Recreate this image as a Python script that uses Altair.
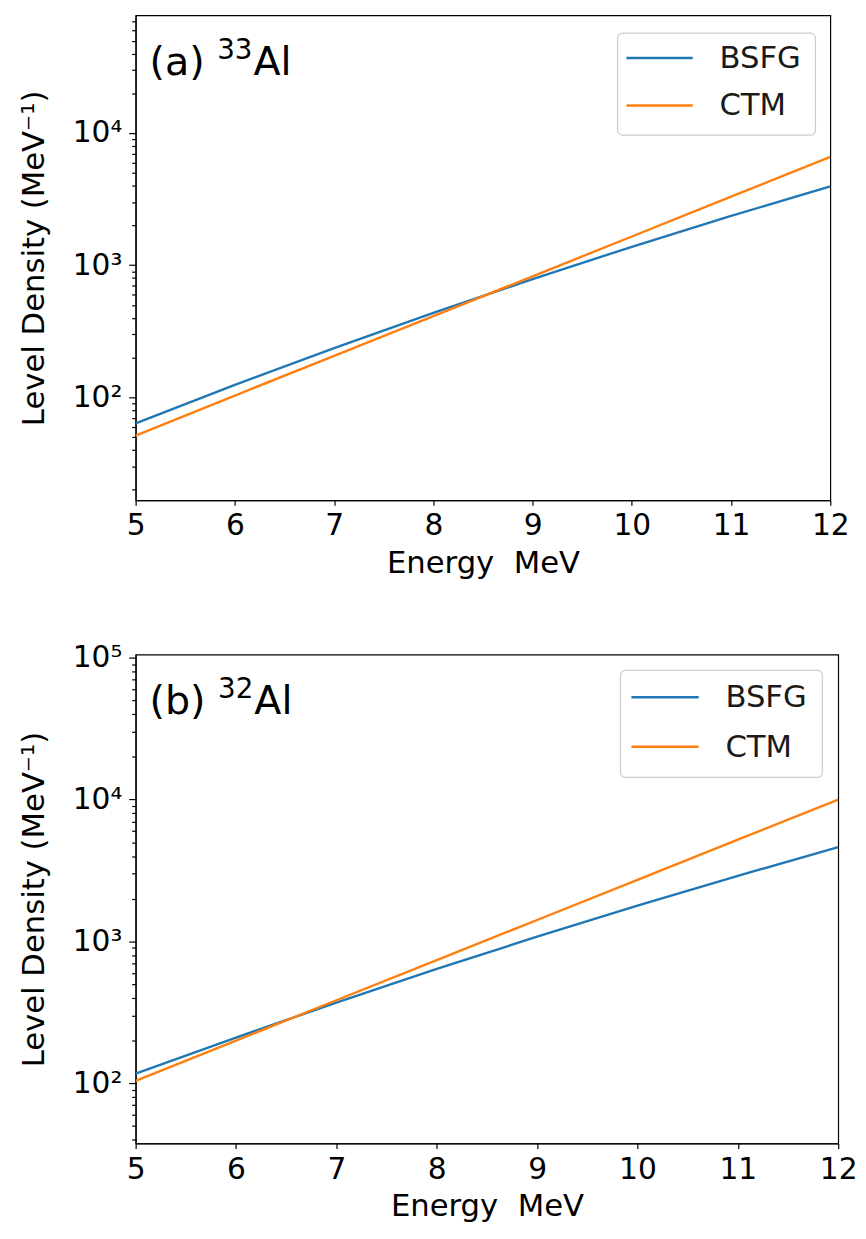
import altair as alt
import pandas as pd

# ---- data ----
energy = [5, 6, 7, 8, 9, 10, 11, 12]
models = ["BSFG", "CTM"]
colors = ["#1f77b4", "#ff7f0e"]

# (a) 33Al
bsfg_33 = [63.5, 124, 235, 435, 784, 1378, 2360, 3945]
ctm_33 = [51.3, 103, 206, 411, 823, 1648, 3300, 6600]
# (b) 32Al
bsfg_32 = [117, 210, 371, 640, 1080, 1790, 2900, 4620]
ctm_32 = [104, 200, 385, 738, 1416, 2718, 5210, 10000]

x_ticks = [5, 6, 7, 8, 9, 10, 11, 12]
mantissas = [1, 2, 3, 4, 5, 6, 7, 8, 9]
decades = [10, 100, 1000, 10000, 100000]

ydomain_a = [16.6, 77800]
ydomain_b = [37.7, 105000]

FONT = "DejaVu Sans"


def make_df(b, c):
    rows = []
    for m, vals in zip(models, [b, c]):
        for e, v in zip(energy, vals):
            rows.append({"energy": e, "density": v, "model": m})
    return pd.DataFrame(rows)


def log_ticks(dom):
    return [m * d for d in decades for m in mantissas if dom[0] <= m * d <= dom[1]]


major_test = "abs(log(datum.value)/LN10 - round(log(datum.value)/LN10)) < 0.001"
label_expr = (
    f"({major_test}) ? '10' + ['\u2070','\u00b9','\u00b2','\u00b3','\u2074','\u2075']"
    "[round(log(datum.value)/LN10)] : ''"
)


def one(**kw):
    return pd.DataFrame({k: [v] for k, v in kw.items()})


def panel(df, tag, mass, ydom, width, height, box, sample_x, label_x, rows_y):
    lines = alt.Chart(df).mark_line(strokeWidth=2.4, clip=True).encode(
        x=alt.X(
            "energy:Q",
            scale=alt.Scale(domain=[5, 12], nice=False, zero=False),
            axis=alt.Axis(
                values=x_ticks,
                title="Energy\u00a0\u00a0MeV",
                labelFlush=False,
                tickSize=5,
                labelPadding=6,
                titlePadding=8,
            ),
        ),
        y=alt.Y(
            "density:Q",
            scale=alt.Scale(type="log", domain=ydom, nice=False),
            axis=alt.Axis(
                values=log_ticks(ydom),
                labelExpr=label_expr,
                tickSize={"condition": {"test": major_test, "value": 7}, "value": 4},
                labelPadding=7,
                title="Level Density (MeV\u207b\u00b9)",
                titlePadding=22,
            ),
        ),
        color=alt.Color(
            "model:N", scale=alt.Scale(domain=models, range=colors), legend=None
        ),
    )

    layers = [lines]
    # annotation "(a) ^33Al"
    big = 40
    sup = 28
    x0 = 14
    base_y = 60
    tag_w = {"(a) ": 1.711, "(b) ": 1.733}[tag] * big
    layers.append(
        alt.Chart(one(t=tag)).mark_text(
            align="left", baseline="alphabetic", fontSize=big, font=FONT, color="black"
        ).encode(x=alt.value(x0), y=alt.value(base_y), text="t:N")
    )
    layers.append(
        alt.Chart(one(t=mass)).mark_text(
            align="left", baseline="alphabetic", fontSize=sup, font=FONT, color="black"
        ).encode(x=alt.value(x0 + tag_w), y=alt.value(base_y - 16), text="t:N")
    )
    layers.append(
        alt.Chart(one(t="Al")).mark_text(
            align="left", baseline="alphabetic", fontSize=big, font=FONT, color="black"
        ).encode(x=alt.value(x0 + tag_w + 1.272 * sup + 1), y=alt.value(base_y), text="t:N")
    )

    # legend box
    bx0, by0, bx1, by1 = box
    layers.append(
        alt.Chart(one(k=0)).mark_rect(
            fill="white", fillOpacity=0.8, stroke="#cccccc", strokeWidth=1.2, cornerRadius=5
        ).encode(x=alt.value(bx0), x2=alt.value(bx1), y=alt.value(by0), y2=alt.value(by1))
    )
    for m, c, yy in zip(models, colors, rows_y):
        layers.append(
            alt.Chart(one(model=m)).mark_rule(strokeWidth=2.5, color=c).encode(
                x=alt.value(sample_x[0]), x2=alt.value(sample_x[1]), y=alt.value(yy)
            )
        )
        layers.append(
            alt.Chart(one(model=m)).mark_text(
                align="left", baseline="middle", fontSize=31, font=FONT, color="#1a1a1a"
            ).encode(x=alt.value(label_x), y=alt.value(yy + 1), text="model:N")
        )

    return alt.layer(*layers).properties(width=width, height=height)


pa = panel(
    make_df(bsfg_33, ctm_33), "(a) ", "33", ydomain_a, 702, 490,
    box=(487, 18, 687, 121), sample_x=(496, 563), label_x=590, rows_y=(43, 91),
)
pb = panel(
    make_df(bsfg_32, ctm_32), "(b) ", "32", ydomain_b, 710, 494,
    box=(490, 16, 694, 124), sample_x=(501, 569), label_x=596, rows_y=(43, 93),
)

chart = (
    alt.vconcat(pa, pb, spacing=63)
    .properties(padding={"left": 10, "top": 0, "right": 0, "bottom": 0}, background="white")
    .configure_view(stroke="black", strokeWidth=1.2)
    .configure_axis(
        grid=False,
        labelFont=FONT,
        titleFont=FONT,
        labelFontSize=30,
        titleFontSize=31,
        titleFontWeight="normal",
        labelColor="black",
        titleColor="black",
        tickColor="black",
        domainColor="black",
        tickWidth=1.2,
        domainWidth=1.2,
    )
)

chart.save("out.html", embed_options={"renderer": "svg", "actions": False})
